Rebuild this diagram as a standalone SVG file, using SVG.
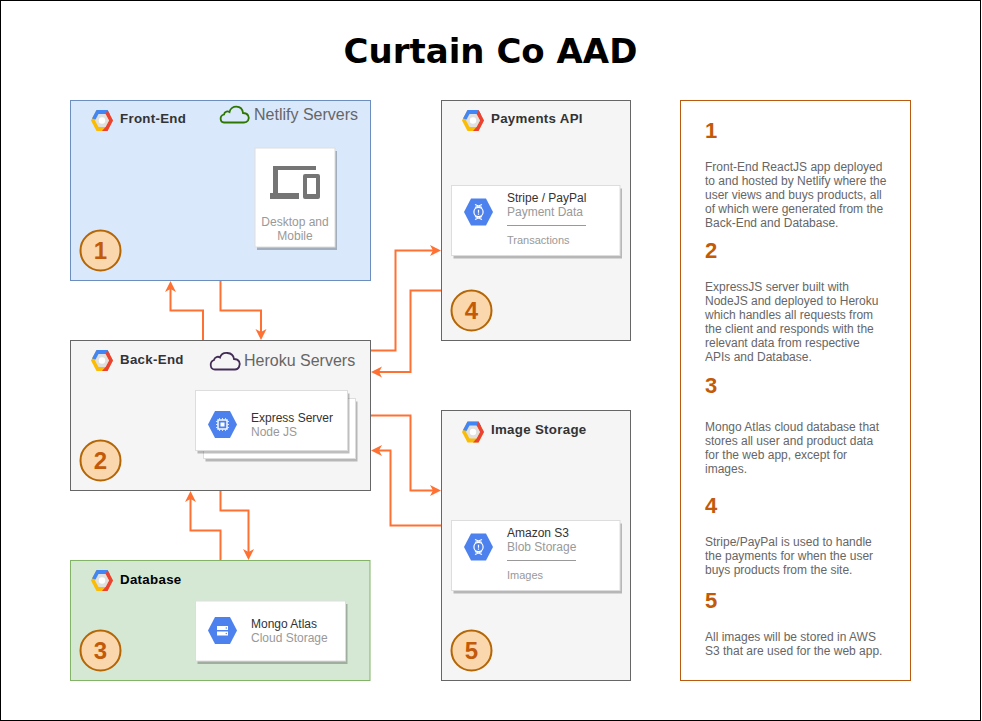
<svg xmlns="http://www.w3.org/2000/svg" width="982" height="721" viewBox="0 0 982 721">
<style>
text{font-family:"Liberation Sans",Arial,sans-serif}
.box{stroke-width:1}
.grey{fill:#f5f5f5;stroke:#666}
.h{font-size:13.3px;font-weight:bold;fill:#333;letter-spacing:.3px}
.t1{font-size:12px;fill:#333}
.t2{font-size:12px;fill:#999}
.t3{font-size:11px;fill:#999}
.srv{font-size:16px;fill:#666}
.card{fill:#fff;stroke:#ddd;stroke-width:1}
.sh{fill:#000;fill-opacity:.25}
.num{fill:#fad7ac;stroke:#b46504;stroke-width:2}
.numt{font-size:24px;font-weight:bold;fill:#c25a0a;text-anchor:middle}
.lnum{font-size:22px;font-weight:bold;fill:#c25a0a}
.lt{font-size:12px;fill:#666}
.conn path{fill:none;stroke:#ff7033;stroke-width:2;marker-end:url(#arr)}
</style>
<defs>
<marker id="arr" markerUnits="userSpaceOnUse" markerWidth="13" markerHeight="13" refX="8" refY="6.5" orient="auto">
<path d="M0 1L11 6.5L0 12L3 6.5Z" fill="#ff7033"/>
</marker>
<g id="logo">
<path d="M-11 0L-5.5-10.5H5.5L11 0L5.5 10.500H-5.5Z" fill="#fbbc05"/>
<path d="M-10-2L-5.5-10.5H5.5L8-6H-3L-6-1Z" fill="#4285f4"/>
<path d="M5.5-10.5L11 0L5.5 10.5H0L3.500 6.500L7 0L3.500-6.500Z" fill="#ea4335"/>
<path d="M-7 0L-3.500-6.500H3.500L7 0L3.500 6.500H-3.500Z" fill="#e0e0e0"/>
<circle r="3.2" fill="#fff"/>
</g>
<g id="hex">
<path d="M-14.5 0L-7.5-13.5H7.5L14.5 0L7.5 13.5H-7.5Z" fill="#4d82ee"/>
</g>
<g id="chip">
<use href="#hex"/>
<rect x="-4.5" y="-4.5" width="9" height="9" fill="none" stroke="#fff" stroke-width="1.4"/>
<rect x="-2" y="-2" width="4" height="4" fill="#fff"/>
<path d="M-3-6.5V-5M0-6.5V-5M3-6.5V-5M-3 5V6.5M0 5V6.5M3 5V6.5M-6.5-3H-5M-6.5 0H-5M-6.5 3H-5M5-3H6.5M5 0H6.5M5 3H6.5" stroke="#fff" stroke-width=".8"/>
</g>
<g id="store">
<use href="#hex"/>
<rect x="-5.5" y="-4.5" width="11" height="4" fill="#fff"/>
<rect x="-5.5" y="1" width="11" height="4" fill="#fff"/>
<circle cx="3.8" cy="-2.5" r=".7" fill="#4d82ee"/>
<circle cx="3.8" cy="3" r=".7" fill="#4d82ee"/>
</g>
<g id="blob">
<use href="#hex"/>
<path d="M-3.5-7.5L3.5-4.5M3.5-7.5L-3.5-4.5M-3.5 7.5L3.5 4.5M3.5 7.5L-3.5 4.5" stroke="#fff" stroke-width="1.1"/>
<circle r="4.6" fill="none" stroke="#fff" stroke-width="1.2"/>
<path d="M0-2.2V.8M0 1.6V2.8" stroke="#fff" stroke-width="1.2"/>
</g>
</defs>
<rect x="0.5" y="0.5" width="980" height="720" fill="#fff" stroke="#000"/>
<text id="title" x="490.5" y="63" text-anchor="middle" style="font-family:'DejaVu Sans',sans-serif;font-size:34px;font-weight:bold" fill="#000">Curtain Co AAD</text>

<g id="front-end">
<rect class="box" x="70.5" y="100.5" width="300" height="180" fill="#dae8fc" stroke="#6c8ebf"/>
<use href="#logo" x="102" y="120.5"/>
<text class="h" x="120" y="123">Front-End</text>
<path d="M224 122.500C220 122.500 219 116 224 114.500C224.500 111 228 111 229.500 112C231 105 242 104.500 243 113C248 113 250 117 248 120.500C247 122 245.500 122.500 244 122.500Z" fill="none" stroke="#2d7600" stroke-width="1.800"/>
<text class="srv" x="254" y="120">Netlify Servers</text>
<rect class="sh" x="257" y="151" width="80" height="99"/>
<rect class="card" x="255" y="148" width="80" height="99"/>
<path d="M273 166H316V170H278V193H299V199H270V193H273Z" fill="#757575"/>
<path fill-rule="evenodd" d="M305 174H318Q320 174 320 176V197Q320 199 318 199H305Q303 199 303 197V176Q303 174 305 174ZM307 178V194H316V178Z" fill="#757575"/>
<text class="t2" x="295" y="226" text-anchor="middle">Desktop and</text>
<text class="t2" x="295" y="240" text-anchor="middle">Mobile</text>
<circle class="num" cx="100.500" cy="250.500" r="20"/>
<text class="numt" x="100.500" y="258.500">1</text>
</g>

<g id="back-end">
<rect class="box grey" x="70.5" y="340.5" width="300" height="150"/>
<use href="#logo" x="102" y="360.5"/>
<text class="h" x="120" y="364">Back-End</text>
<path d="M215 369.500C210 369.500 209 362 214 360C214.500 357 218 356 220 357.500C222 351 233 351.500 234 359C239 359 241 363 239 367C238 369 236.500 369.500 235 369.500Z" fill="none" stroke="#432d57" stroke-width="1.800"/>
<text class="srv" x="244" y="366">Heroku Servers</text>
<rect class="sh" x="205.500" y="401.500" width="152" height="60"/>
<rect class="card" x="203.500" y="398.500" width="152" height="60"/>
<rect class="sh" x="197.500" y="393.500" width="152" height="60"/>
<rect class="card" x="195.500" y="390.500" width="152" height="60"/>
<use href="#chip" x="222.500" y="424.500"/>
<text class="t1" x="251" y="422">Express Server</text>
<text class="t2" x="251" y="436">Node JS</text>
<circle class="num" cx="100.500" cy="460.500" r="20"/>
<text class="numt" x="100.500" y="468.500">2</text>
</g>

<g id="database">
<rect class="box" x="70.5" y="560.5" width="299.500" height="120" fill="#d5e8d4" stroke="#82b366"/>
<use href="#logo" x="102" y="580.500"/>
<text class="h" x="120" y="584" style="fill:#000">Database</text>
<rect class="sh" x="197.500" y="604" width="150" height="60"/>
<rect class="card" x="195.500" y="601" width="150" height="60"/>
<use href="#store" x="222.500" y="630.500"/>
<text class="t1" x="251" y="628">Mongo Atlas</text>
<text class="t2" x="251" y="642">Cloud Storage</text>
<circle class="num" cx="100.500" cy="650.500" r="20"/>
<text class="numt" x="100.500" y="658.500">3</text>
</g>

<g id="payments-api">
<rect class="box grey" x="441.5" y="100.5" width="189" height="240"/>
<use href="#logo" x="473" y="120.500"/>
<text class="h" x="491" y="123">Payments API</text>
<rect class="sh" x="453.500" y="188.500" width="168.500" height="70"/>
<rect class="card" x="451.500" y="185.500" width="168.500" height="70"/>
<use href="#blob" x="478.500" y="212"/>
<text class="t1" x="507" y="202">Stripe / PayPal</text>
<text class="t2" x="507" y="216">Payment Data</text>
<path d="M507 225.500H586" stroke="#999" fill="none"/>
<text class="t3" x="507" y="244">Transactions</text>
<circle class="num" cx="471.500" cy="310.500" r="20"/>
<text class="numt" x="471.500" y="318.500">4</text>
</g>

<g id="image-storage">
<rect class="box grey" x="441.5" y="410.5" width="189" height="270"/>
<use href="#logo" x="473" y="432"/>
<text class="h" x="491" y="434">Image Storage</text>
<rect class="sh" x="453.500" y="523.500" width="168.500" height="70"/>
<rect class="card" x="451.500" y="520.500" width="168.500" height="70"/>
<use href="#blob" x="478.500" y="547"/>
<text class="t1" x="507" y="537">Amazon S3</text>
<text class="t2" x="507" y="551">Blob Storage</text>
<path d="M507 560.500H576" stroke="#999" fill="none"/>
<text class="t3" x="507" y="579">Images</text>
<circle class="num" cx="471.500" cy="650.500" r="20"/>
<text class="numt" x="471.500" y="658.500">5</text>
</g>

<g id="legend">
<rect x="680.500" y="100.500" width="230" height="580" fill="#fff" stroke="#b85a0f"/>
<text class="lnum" x="705" y="138">1</text>
<text class="lt" x="705" y="171">Front-End ReactJS app deployed</text>
<text class="lt" x="705" y="185">to and hosted by Netlify where the</text>
<text class="lt" x="705" y="199">user views and buys products, all</text>
<text class="lt" x="705" y="213">of which were generated from the</text>
<text class="lt" x="705" y="227">Back-End and Database.</text>
<text class="lnum" x="705" y="258">2</text>
<text class="lt" x="705" y="291">ExpressJS server built with</text>
<text class="lt" x="705" y="305">NodeJS and deployed to Heroku</text>
<text class="lt" x="705" y="319">which handles all requests from</text>
<text class="lt" x="705" y="333">the client and responds with the</text>
<text class="lt" x="705" y="347">relevant data from respective</text>
<text class="lt" x="705" y="361">APIs and Database.</text>
<text class="lnum" x="705" y="393">3</text>
<text class="lt" x="705" y="431">Mongo Atlas cloud database that</text>
<text class="lt" x="705" y="445">stores all user and product data</text>
<text class="lt" x="705" y="459">for the web app, except for</text>
<text class="lt" x="705" y="473">images.</text>
<text class="lnum" x="705" y="513">4</text>
<text class="lt" x="705" y="546">Stripe/PayPal is used to handle</text>
<text class="lt" x="705" y="560">the payments for when the user</text>
<text class="lt" x="705" y="574">buys products from the site.</text>
<text class="lnum" x="705" y="608">5</text>
<text class="lt" x="705" y="641">All images will be stored in AWS</text>
<text class="lt" x="705" y="655">S3 that are used for the web app.</text>
</g>

<g id="connectors" class="conn">
<path d="M203 340V310.500H170.500V284"/>
<path d="M220.500 281V310.500H261V337"/>
<path d="M220.500 560V530.500H190.500V494"/>
<path d="M220.500 491V510.500H248.500V557"/>
<path d="M371 350.500H395.500V250.500H438"/>
<path d="M441 290.500H410.500V372H374"/>
<path d="M371 415.500H410.500V490.500H438"/>
<path d="M441 525.500H390.500V450.500H374"/>
</g>
</svg>
